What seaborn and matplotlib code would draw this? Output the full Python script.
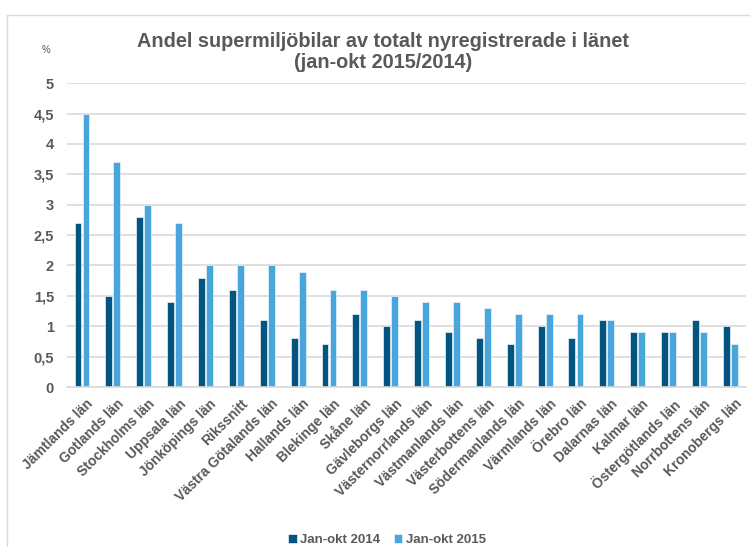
import matplotlib
matplotlib.use("Agg")
import matplotlib.pyplot as plt
import matplotlib.transforms as mtransforms
from matplotlib.patches import Rectangle
from matplotlib.ticker import FuncFormatter, MultipleLocator
import seaborn as sns
import pandas as pd

# data
lan = [
    "Jämtlands län", "Gotlands län", "Stockholms län", "Uppsala län",
    "Jönköpings län", "Rikssnitt", "Västra Götalands län", "Hallands län",
    "Blekinge län", "Skåne län", "Gävleborgs län", "Västernorrlands län",
    "Västmanlands län", "Västerbottens län", "Södermanlands län",
    "Värmlands län", "Örebro län", "Dalarnas län", "Kalmar län",
    "Östergötlands län", "Norrbottens län", "Kronobergs län",
]
andel_2014 = [2.7, 1.5, 2.8, 1.4, 1.8, 1.6, 1.1, 0.8, 0.7, 1.2, 1.0,
              1.1, 0.9, 0.8, 0.7, 1.0, 0.8, 1.1, 0.9, 0.9, 1.1, 1.0]
andel_2015 = [4.5, 3.7, 3.0, 2.7, 2.0, 2.0, 2.0, 1.9, 1.6, 1.6, 1.5,
              1.4, 1.4, 1.3, 1.2, 1.2, 1.2, 1.1, 0.9, 0.9, 0.9, 0.7]
serier = ["Jan-okt 2014", "Jan-okt 2015"]
farger = {"Jan-okt 2014": "#02557F", "Jan-okt 2015": "#48A6DD"}

df = pd.DataFrame({
    "lan": lan * 2,
    "serie": [serier[0]] * len(lan) + [serier[1]] * len(lan),
    "andel": andel_2014 + andel_2015,
})

sns.set_style("white")
plt.rcParams["font.family"] = ["Liberation Sans", "DejaVu Sans"]
textfarg = "#595959"

fig = plt.figure(figsize=(7.5, 5.47), dpi=100)
ax = fig.add_axes([0.0888, 0.2925, 0.9055, 0.5555])

sns.barplot(data=df, x="lan", y="andel", hue="serie", palette=farger,
            saturation=1, width=0.52, gap=0.14, edgecolor="#EAF3FA", linewidth=0.5,
            ax=ax, legend=True)

ax.set_ylim(0, 5)
ax.set_xlim(-0.5, len(lan) - 0.5)
ax.yaxis.set_major_locator(MultipleLocator(0.5))
ax.yaxis.set_major_formatter(FuncFormatter(lambda v, p: f"{v:g}".replace(".", ",")))
ax.grid(axis="y", color="#D9D9D9", linewidth=1.2)
ax.set_axisbelow(True)
for s in ["top", "right", "left"]:
    ax.spines[s].set_visible(False)
ax.spines["bottom"].set_color("#D9D9D9")
ax.spines["bottom"].set_linewidth(1.2)

ax.set_xlabel("")
ax.set_ylabel("")
ax.tick_params(axis="y", length=0, pad=9, labelsize=10.5, labelcolor=textfarg)
ax.tick_params(axis="x", length=0, pad=7, labelsize=10, labelcolor=textfarg)
for t in ax.get_yticklabels():
    t.set_fontweight("bold")
skift = mtransforms.ScaledTranslation(3 / 72, 0, fig.dpi_scale_trans)
for t in ax.get_xticklabels():
    t.set_rotation(45)
    t.set_ha("right")
    t.set_rotation_mode("anchor")
    t.set_fontweight("bold")
    t.set_transform(t.get_transform() + skift)

fig.text(0.511, 0.905, "Andel supermiljöbilar av totalt nyregistrerade i länet\n(jan-okt 2015/2014)",
         ha="center", va="center", fontsize=14.3, fontweight="bold", color=textfarg,
         linespacing=1.15)
fig.text(0.061, 0.908, "%", fontsize=7, color=textfarg, ha="center", va="center")

leg = ax.legend(loc="center", bbox_to_anchor=(0.472, -0.503),
                ncol=2, frameon=False, handlelength=0.65, handleheight=0.65,
                handletextpad=0.3, columnspacing=1.0, fontsize=9.5)
for t in leg.get_texts():
    t.set_color(textfarg)
    t.set_fontweight("bold")

fig.patches.append(Rectangle((0.009, -0.01), 1.0, 0.983, transform=fig.transFigure,
                             fill=False, edgecolor="#D9D9D9", linewidth=1.0))

fig.savefig("out.png", dpi=100, facecolor="white")
